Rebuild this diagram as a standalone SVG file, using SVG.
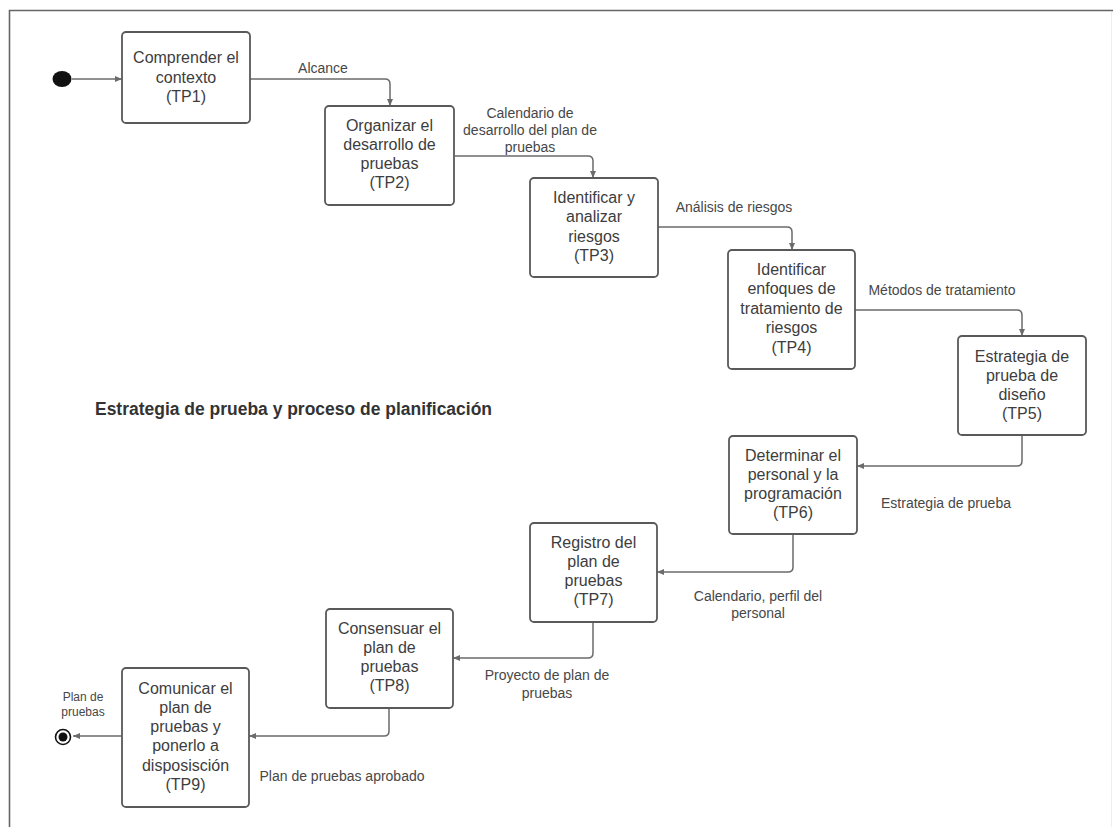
<svg xmlns="http://www.w3.org/2000/svg" width="1113" height="827" viewBox="0 0 1113 827">
  <style>
    .node rect { fill: #ffffff; stroke: #595959; stroke-width: 1.8; }
    .node text { font-family: "Liberation Sans", Arial, sans-serif; font-size: 16px; fill: #3d3d3d; text-anchor: middle; }
    .edge { fill: none; stroke: #6b6b6b; stroke-width: 1.5; marker-end: url(#arrow); }
    .lbl { font-family: "Liberation Sans", Arial, sans-serif; font-size: 14px; fill: #474747; text-anchor: middle; }
    .lbl-sm { font-family: "Liberation Sans", Arial, sans-serif; font-size: 12px; fill: #474747; text-anchor: middle; }
    .title { font-family: "Liberation Sans", Arial, sans-serif; font-size: 17.5px; font-weight: bold; fill: #333333; }
    .frame { fill: none; stroke: #666666; stroke-width: 1.6; }
  </style>
  <defs>
    <marker id="arrow" markerUnits="userSpaceOnUse" markerWidth="8" markerHeight="8" refX="7" refY="3" orient="auto">
      <path d="M0,0 L7,3 L0,6 z" fill="#6b6b6b"/>
    </marker>
  </defs>

  <rect x="0" y="0" width="1113" height="827" fill="#ffffff"/>

  <!-- outer frame -->
  <path class="frame" d="M9.5,827 V10.5 H1113"/>
  <line x1="1111.5" y1="12" x2="1111.5" y2="827" stroke="#eeeeee" stroke-width="1"/>

  <!-- title -->
  <text class="title" x="95" y="415" textLength="397" lengthAdjust="spacingAndGlyphs">Estrategia de prueba y proceso de planificación</text>

  <!-- connectors -->
  <g id="connectors">
    <ellipse cx="62" cy="79" rx="9.5" ry="8" fill="#111111"/>
    <path class="edge" d="M72,79 H122"/>

    <path class="edge" d="M250,79 H385 Q390,79 390,84 V106"/>
    <text class="lbl" x="323" y="73">Alcance</text>

    <path class="edge" d="M455,156 H588 Q593,156 593,161 V178"/>
    <text class="lbl" x="530" y="118">Calendario de</text>
    <text class="lbl" x="530" y="135">desarrollo del plan de</text>
    <text class="lbl" x="530" y="152">pruebas</text>

    <path class="edge" d="M658,227 H787 Q792,227 792,232 V250"/>
    <text class="lbl" x="734" y="212">Análisis de riesgos</text>

    <path class="edge" d="M855,310 H1017 Q1022,310 1022,315 V336"/>
    <text class="lbl" x="942" y="295">Métodos de tratamiento</text>

    <path class="edge" d="M1022,435 V461 Q1022,466 1017,466 H857"/>
    <text class="lbl" x="946" y="508">Estrategia de prueba</text>

    <path class="edge" d="M793,534 V567 Q793,572 788,572 H657"/>
    <text class="lbl" x="758" y="601">Calendario, perfil del</text>
    <text class="lbl" x="758" y="618">personal</text>

    <path class="edge" d="M593,622 V653 Q593,658 588,658 H453"/>
    <text class="lbl" x="547" y="680">Proyecto de plan de</text>
    <text class="lbl" x="547" y="698">pruebas</text>

    <path class="edge" d="M389,708 V731 Q389,736 384,736 H249"/>
    <text class="lbl" x="342" y="781">Plan de pruebas aprobado</text>

    <path class="edge" d="M122,736 H73"/>
    <text class="lbl-sm" x="83" y="701">Plan de</text>
    <text class="lbl-sm" x="83" y="716">pruebas</text>
    <circle cx="63" cy="737" r="7.5" fill="#ffffff" stroke="#111111" stroke-width="1.6"/>
    <circle cx="63" cy="737" r="4.5" fill="#111111"/>
  </g>

  <!-- process steps -->
  <g id="tp1" class="node">
    <rect x="122" y="32" width="128" height="91" rx="4"/>
    <text x="186" y="63"><tspan x="186">Comprender el</tspan><tspan x="186" dy="19.5">contexto</tspan><tspan x="186" dy="19.5">(TP1)</tspan></text>
  </g>

  <g id="tp2" class="node">
    <rect x="325" y="106" width="129" height="99" rx="4"/>
    <text x="389.5" y="130.5"><tspan x="389.5">Organizar el</tspan><tspan x="389.5" dy="19.3">desarrollo de</tspan><tspan x="389.5" dy="19.3">pruebas</tspan><tspan x="389.5" dy="19.3">(TP2)</tspan></text>
  </g>

  <g id="tp3" class="node">
    <rect x="530" y="178" width="128" height="99" rx="4"/>
    <text x="594" y="202.5"><tspan x="594">Identificar y</tspan><tspan x="594" dy="19.5">analizar</tspan><tspan x="594" dy="19.5">riesgos</tspan><tspan x="594" dy="19.5">(TP3)</tspan></text>
  </g>

  <g id="tp4" class="node">
    <rect x="728" y="250" width="127" height="119" rx="4"/>
    <text x="791.5" y="274.5"><tspan x="791.5">Identificar</tspan><tspan x="791.5" dy="19.5">enfoques de</tspan><tspan x="791.5" dy="19.5">tratamiento de</tspan><tspan x="791.5" dy="19.5">riesgos</tspan><tspan x="791.5" dy="19.5">(TP4)</tspan></text>
  </g>

  <g id="tp5" class="node">
    <rect x="958" y="336" width="128" height="99" rx="4"/>
    <text x="1022" y="361.5"><tspan x="1022">Estrategia de</tspan><tspan x="1022" dy="19.3">prueba de</tspan><tspan x="1022" dy="19.3">diseño</tspan><tspan x="1022" dy="19.3">(TP5)</tspan></text>
  </g>

  <g id="tp6" class="node">
    <rect x="729" y="436" width="128" height="98" rx="4"/>
    <text x="793" y="460.5"><tspan x="793">Determinar el</tspan><tspan x="793" dy="19.3">personal y la</tspan><tspan x="793" dy="19.3">programación</tspan><tspan x="793" dy="19.3">(TP6)</tspan></text>
  </g>

  <g id="tp7" class="node">
    <rect x="530" y="523" width="127" height="99" rx="4"/>
    <text x="593.5" y="547.5"><tspan x="593.5">Registro del</tspan><tspan x="593.5" dy="19.3">plan de</tspan><tspan x="593.5" dy="19.3">pruebas</tspan><tspan x="593.5" dy="19.3">(TP7)</tspan></text>
  </g>

  <g id="tp8" class="node">
    <rect x="326" y="609" width="127" height="99" rx="4"/>
    <text x="389.5" y="633.5"><tspan x="389.5">Consensuar el</tspan><tspan x="389.5" dy="19.3">plan de</tspan><tspan x="389.5" dy="19.3">pruebas</tspan><tspan x="389.5" dy="19.3">(TP8)</tspan></text>
  </g>

  <g id="tp9" class="node">
    <rect x="122" y="668" width="127" height="139" rx="4"/>
    <text x="185.5" y="693.5"><tspan x="185.5">Comunicar el</tspan><tspan x="185.5" dy="19.3">plan de</tspan><tspan x="185.5" dy="19.3">pruebas y</tspan><tspan x="185.5" dy="19.3">ponerlo a</tspan><tspan x="185.5" dy="19.3">disposisción</tspan><tspan x="185.5" dy="19.3">(TP9)</tspan></text>
  </g>
</svg>
